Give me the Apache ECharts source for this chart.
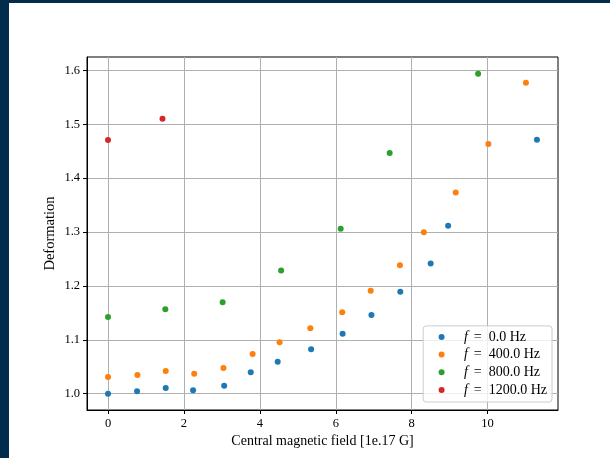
<!DOCTYPE html>
<html>
<head>
<meta charset="utf-8">
<script src="https://cdn.jsdelivr.net/npm/echarts@6/dist/echarts.min.js"></script>
<style>
html,body{margin:0;padding:0;background:#fff;}
#frame{position:absolute;left:0;top:0;width:610px;height:458px;background:#fff;}
#topbar{position:absolute;left:0;top:0;width:610px;height:3px;background:#022c4b;}
#leftbar{position:absolute;left:0;top:0;width:9px;height:458px;background:#022c4b;}
#chart{position:absolute;left:0;top:0;width:610px;height:458px;}
</style>
</head>
<body>
<div id="frame"></div>
<div id="chart"></div>
<div id="topbar"></div>
<div id="leftbar"></div>
<script>
// Data
var seriesNames = ['0.0', '400.0', '800.0', '1200.0'];
var colors = ['#1f77b4', '#ff7f0e', '#2ca02c', '#d62728'];

var x0 = [0, 0.765, 1.52, 2.24, 3.06, 3.76, 4.47, 5.35, 6.18, 6.94, 7.70, 8.50, 8.96, 11.30];
var y0 = [1.000, 1.0045, 1.0106, 1.0063, 1.0149, 1.0397, 1.0594, 1.0825, 1.111, 1.146, 1.189, 1.2415, 1.3115, 1.4713];

var x400 = [0, 0.775, 1.52, 2.27, 3.04, 3.81, 4.52, 5.33, 6.17, 6.92, 7.69, 8.32, 9.16, 10.02, 11.01];
var y400 = [1.031, 1.0347, 1.042, 1.037, 1.0477, 1.0737, 1.0955, 1.1215, 1.151, 1.191, 1.2385, 1.2998, 1.3734, 1.4633, 1.577];

var x800 = [0, 1.51, 3.02, 4.56, 6.13, 7.42, 9.75];
var y800 = [1.1425, 1.1568, 1.1698, 1.2285, 1.306, 1.4466, 1.5939];

var x1200 = [0, 1.435];
var y1200 = [1.4707, 1.5103];

var xTicks = [0, 2, 4, 6, 8, 10];
var yTicks = [1.0, 1.1, 1.2, 1.3, 1.4, 1.5, 1.6];

function pairs(xs, ys) { return xs.map(function (x, i) { return [x, ys[i]]; }); }
var allX = [x0, x400, x800, x1200];
var allY = [y0, y400, y800, y1200];

var serif = 'Liberation Serif';
var chart = echarts.init(document.getElementById('chart'), null, {renderer: 'canvas'});

var series = seriesNames.map(function (n, i) {
  return {
    name: n,
    type: 'scatter',
    data: pairs(allX[i], allY[i]),
    symbol: 'circle',
    symbolSize: 6,
    itemStyle: {color: colors[i], opacity: 1},
    emphasis: {disabled: true},
    z: 3
  };
});

chart.setOption({
  animation: false,
  backgroundColor: 'transparent',
  color: colors,
  grid: {left: 87, right: 52, top: 57, bottom: 48, show: true, borderColor: '#000', borderWidth: 1, backgroundColor: 'transparent'},
  xAxis: {
    type: 'value',
    min: -0.554, max: 11.855,
    interval: 2,
    name: 'Central magnetic field [1e.17 G]',
    nameLocation: 'middle',
    nameGap: 24,
    nameMoveOverlap: false,
    nameTextStyle: {fontFamily: serif, fontSize: 14, color: '#000'},
    axisLine: {show: true, onZero: false, lineStyle: {color: '#000', width: 1}},
    axisTick: {show: true, inside: false, length: 4, lineStyle: {color: '#000'}, customValues: xTicks},
    axisLabel: {fontFamily: serif, fontSize: 12.5, color: '#000', margin: 7, customValues: xTicks,
      formatter: function (v) { return String(v); }},
    splitLine: {show: true, lineStyle: {color: '#b0b0b0', width: 1}}
  },
  yAxis: {
    type: 'value',
    min: 0.9697, max: 1.6249,
    name: 'Deformation',
    nameLocation: 'middle',
    nameGap: 29,
    nameMoveOverlap: false,
    nameRotate: 90,
    nameTextStyle: {fontFamily: serif, fontSize: 14.5, color: '#000'},
    axisLine: {show: true, onZero: false, lineStyle: {color: '#000', width: 1}},
    axisTick: {show: true, inside: false, length: 4, lineStyle: {color: '#000'}, customValues: yTicks},
    axisLabel: {fontFamily: serif, fontSize: 12.5, color: '#000', margin: 7, customValues: yTicks,
      formatter: function (v) { return v.toFixed(1); }},
    splitLine: {show: true, lineStyle: {color: '#b0b0b0', width: 1}}
  },
  legend: {
    orient: 'vertical',
    right: 58, bottom: 56,
    padding: [4, 5, 5, 15.4],
    backgroundColor: 'rgba(255,255,255,0.8)',
    borderColor: '#cccccc',
    borderWidth: 1,
    borderRadius: 3,
    itemWidth: 34.6, itemHeight: 6,
    itemGap: 3.7,
    icon: 'circle',
    selectedMode: false,
    data: seriesNames,
    formatter: function (n) { return '{i|f}{e|=}' + n + ' Hz'; },
    textStyle: {fontFamily: serif, fontSize: 14, color: '#000', lineHeight: 14,
      rich: {
        i: {fontFamily: serif, fontStyle: 'italic', fontSize: 14, lineHeight: 14},
        e: {fontFamily: serif, fontSize: 14, lineHeight: 14, padding: [0, 7, 0, 6]}
      }}
  },
  series: series
});
</script>
</body>
</html>
